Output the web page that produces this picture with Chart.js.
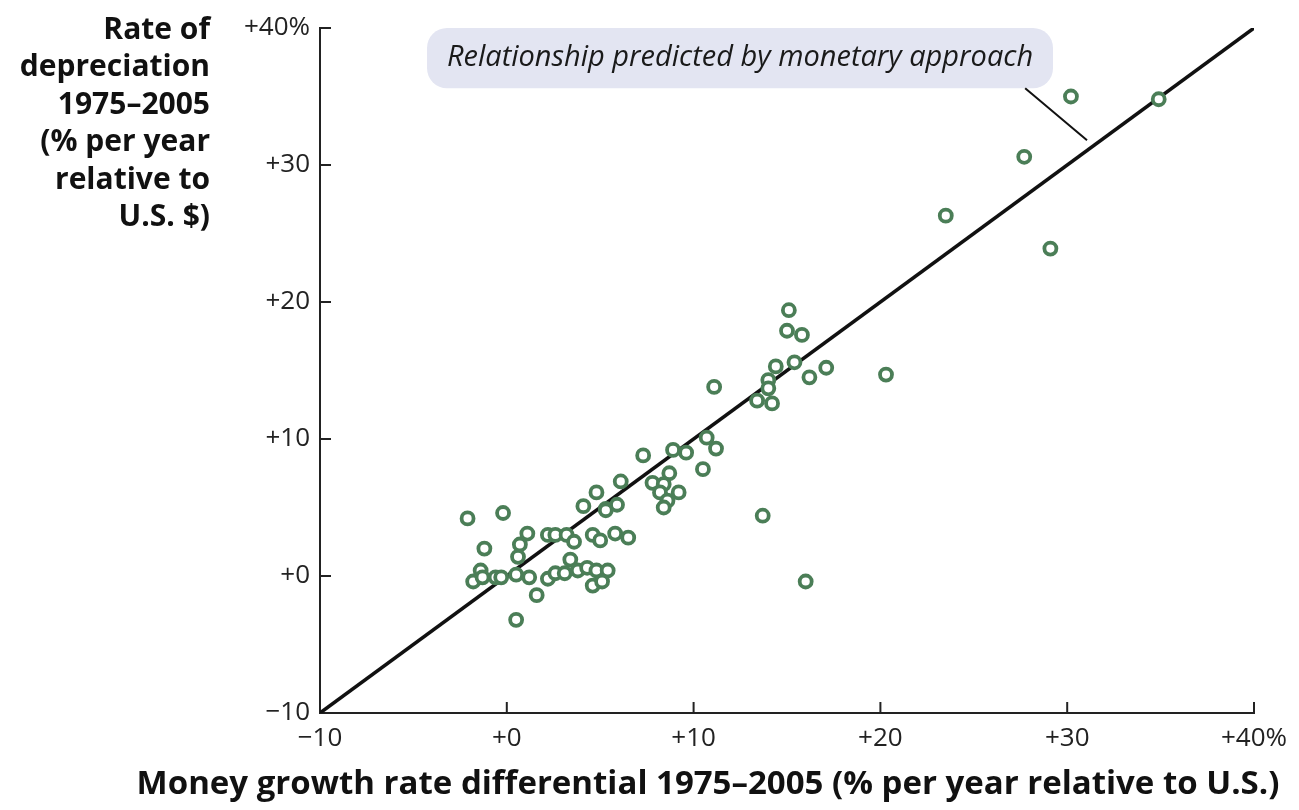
<!DOCTYPE html>
<html>
<head>
<meta charset="utf-8">
<script src="https://cdn.jsdelivr.net/npm/chart.js@4.4.1/dist/chart.umd.min.js"></script>
<style>
  html, body { margin: 0; padding: 0; background: #fff; }
  #wrap { width: 1299px; height: 810px; position: relative; }
</style>
</head>
<body>
<div id="wrap"><canvas id="chart"></canvas></div>
<script>
// money growth differential (x) vs depreciation rate (y), % per year
const moneyGrowth = [
  30.2, 34.9, 27.7, 23.5, 29.1, 20.3,
  15.1, 15.0, 15.8, 15.4, 14.4, 17.1, 16.2, 14.0, 14.0, 13.4, 14.2, 11.1, 16.0, 13.7,
  10.7, 11.2, 8.9, 9.6, 7.3, 10.5, 8.7, 7.8, 8.4, 8.2, 9.2, 8.6, 8.4,
  6.1, 5.3, 5.9, 5.8, 6.5,
  -2.1, -0.2, -1.2, -1.4, -1.8, -1.3, -0.6, -0.3, 0.5, 0.7, 0.6, 1.1, 1.2, 1.6, 0.5,
  2.2, 2.6, 3.2, 3.6, 2.2, 2.6, 3.1, 3.4, 3.8, 4.3, 4.8, 5.4, 4.6, 5.1,
  4.1, 4.8, 5.3, 4.6, 5.0
];
const depreciation = [
  35.0, 34.8, 30.6, 26.3, 23.9, 14.7,
  19.4, 17.9, 17.6, 15.6, 15.3, 15.2, 14.5, 14.3, 13.7, 12.8, 12.6, 13.8, -0.4, 4.4,
  10.1, 9.3, 9.2, 9.0, 8.8, 7.8, 7.5, 6.8, 6.7, 6.1, 6.1, 5.5, 5.0,
  6.9, 4.9, 5.2, 3.1, 2.8,
  4.2, 4.6, 2.0, 0.4, -0.4, -0.1, -0.1, -0.1, 0.1, 2.3, 1.4, 3.1, -0.1, -1.4, -3.2,
  3.0, 3.0, 3.0, 2.5, -0.2, 0.2, 0.2, 1.2, 0.4, 0.6, 0.4, 0.4, -0.7, -0.4,
  5.1, 6.1, 4.8, 3.0, 2.6
];
// 45-degree line predicted by the monetary approach
const predictedX = [-10, 40];
const predictedY = [-10, 40];
const tickValues = [-10, 0, 10, 20, 30, 40];

const yTitleLines = ['Rate of', 'depreciation', '1975\u20132005', '(% per year', 'relative to', 'U.S. $)'];
const xTitle = 'Money growth rate differential 1975\u20132005 (% per year relative to U.S.)';
const noteText = 'Relationship predicted by monetary approach';

const green = '#4b7e57';

function tickLabel(v) {
  let s = v === 0 ? '+0' : (v > 0 ? '+' + v : '\u2212' + Math.abs(v));
  if (v === 40) s += '%';
  return s;
}

const points = moneyGrowth.map((x, i) => ({ x: x, y: depreciation[i] }));
const linePts = predictedX.map((x, i) => ({ x: x, y: predictedY[i] }));

// draws the inward ticks, titles and the callout box
const decor = {
  id: 'decor',
  beforeDatasetsDraw(chart) {
    const ctx = chart.ctx;
    const xs = chart.scales.x, ys = chart.scales.y;
    const left = chart.chartArea.left, bottom = chart.chartArea.bottom;
    ctx.save();
    ctx.strokeStyle = '#222';
    ctx.lineWidth = 2;
    tickValues.forEach(v => {
      if (v === -10) return;
      const py = ys.getPixelForValue(v);
      ctx.beginPath(); ctx.moveTo(left, py); ctx.lineTo(left + 11, py); ctx.stroke();
      const px = xs.getPixelForValue(v);
      ctx.beginPath(); ctx.moveTo(px, bottom); ctx.lineTo(px, bottom - 11); ctx.stroke();
    });

    // callout box
    const bx1 = xs.getPixelForValue(-4.27), bx2 = xs.getPixelForValue(29.24);
    const by1 = ys.getPixelForValue(40), by2 = ys.getPixelForValue(35.6);
    ctx.fillStyle = '#e3e5f2';
    ctx.beginPath();
    ctx.roundRect(bx1, by1, bx2 - bx1, by2 - by1, 20);
    ctx.fill();
    ctx.fillStyle = '#1a1a1a';
    ctx.font = 'italic 29px "Open Sans"';
    ctx.textAlign = 'center';
    ctx.textBaseline = 'middle';
    ctx.fillText(noteText, (bx1 + bx2) / 2, (by1 + by2) / 2);

    // leader line to the 45-degree line
    ctx.strokeStyle = '#111';
    ctx.lineWidth = 2;
    ctx.beginPath();
    ctx.moveTo(xs.getPixelForValue(27.75), ys.getPixelForValue(35.6));
    ctx.lineTo(xs.getPixelForValue(31.06), ys.getPixelForValue(31.8));
    ctx.stroke();

    // axis titles
    ctx.fillStyle = '#111';
    ctx.font = 'bold 30px "Open Sans"';
    ctx.textAlign = 'right';
    yTitleLines.forEach((t, i) => ctx.fillText(t, 210, 30 + i * 37.5));
    ctx.font = 'bold 33px "Open Sans"';
    ctx.textAlign = 'center';
    ctx.fillText(xTitle, 708, 785);
    ctx.restore();
  }
};

new Chart(document.getElementById('chart'), {
  data: {
    datasets: [
      {
        type: 'line',
        data: linePts,
        borderColor: '#111',
        borderWidth: 3.5,
        pointRadius: 0,
        fill: false,
        order: 2
      },
      {
        type: 'scatter',
        data: points,
        pointRadius: 6,
        pointBorderWidth: 3.8,
        pointBorderColor: green,
        pointBackgroundColor: '#fff',
        order: 1
      }
    ]
  },
  options: {
    responsive: true,
    maintainAspectRatio: false,
    animation: false,
    layout: { padding: { left: 0, top: 28, right: 45, bottom: 0 } },
    plugins: { legend: { display: false }, tooltip: { enabled: false } },
    scales: {
      x: {
        type: 'linear',
        min: -10, max: 40,
        afterFit: s => { s.height = 97; },
        afterBuildTicks: s => { s.ticks = tickValues.map(v => ({ value: v })); },
        grid: { display: false, drawTicks: false },
        border: { display: true, color: '#222', width: 2 },
        ticks: {
          callback: v => tickLabel(v),
          color: '#222',
          font: { family: 'Open Sans', size: 26 },
          padding: 10,
          maxRotation: 0
        }
      },
      y: {
        type: 'linear',
        min: -10, max: 40,
        afterFit: s => { s.width = 320; },
        afterBuildTicks: s => { s.ticks = tickValues.map(v => ({ value: v })); },
        grid: { display: false, drawTicks: false },
        border: { display: true, color: '#222', width: 2 },
        ticks: {
          callback: v => tickLabel(v),
          color: '#222',
          font: { family: 'Open Sans', size: 26 },
          padding: 10
        }
      }
    }
  },
  plugins: [decor]
});
</script>
</body>
</html>
